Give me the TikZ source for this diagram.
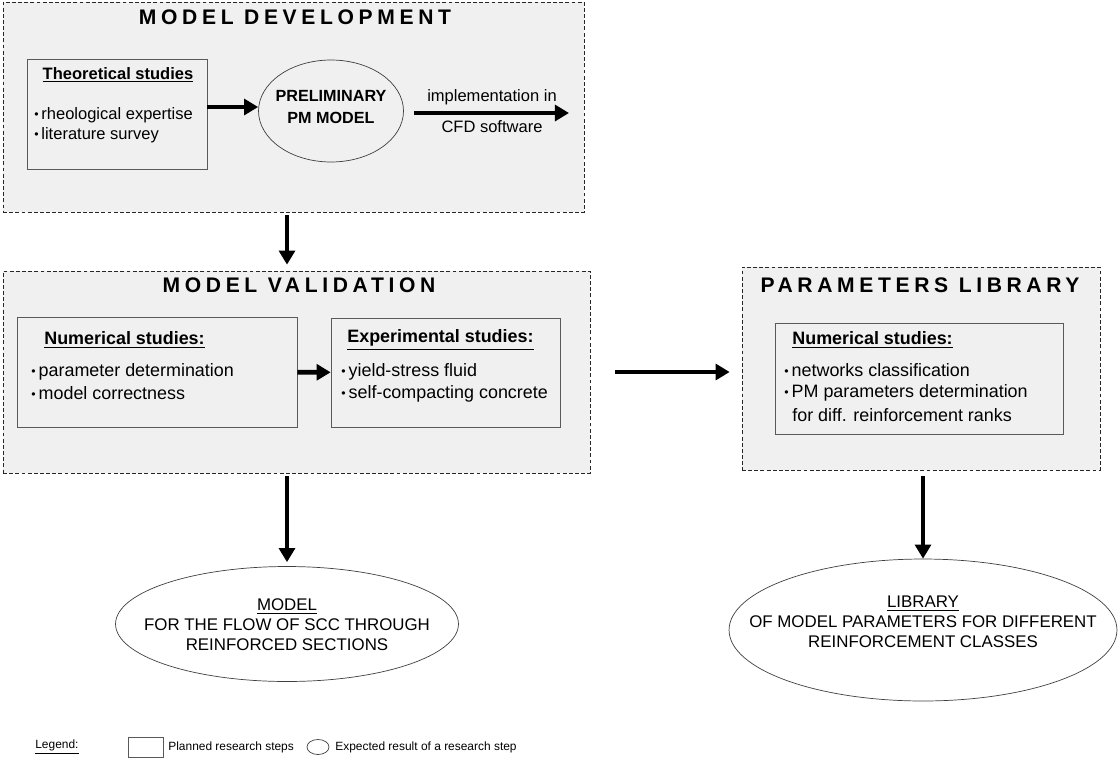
\documentclass[tikz,border=0pt]{standalone}
\usepackage{fontspec}
\usepackage{graphicx}
\setmainfont{Liberation Sans}
\usetikzlibrary{arrows.meta,shapes.geometric}
\newcommand{\bul}{\raisebox{.12ex}{\fontsize{7}{7}\selectfont•}\,}

\begin{document}
\begin{tikzpicture}[x=0.02cm,y=-0.02cm,
  panel/.style={draw=black!85,dash pattern=on 2.2pt off 1.3pt,fill=black!6,inner sep=0pt},
  stepbox/.style={draw=black!65,fill=black!6,inner sep=0pt},
  result/.style={ellipse,draw=black!75,inner sep=0pt},
  bigarrow/.style={line width=2.8pt,-{Triangle[length=8pt,width=9pt]}},
  ptitle/.style={font=\fontsize{12}{14}\selectfont\bfseries\addfontfeature{LetterSpace=22}},
  toptxt/.style={font=\fontsize{9.4}{11}\selectfont,inner sep=0pt},
  txt/.style={font=\fontsize{10.2}{12}\selectfont,inner sep=0pt},
  legtxt/.style={font=\fontsize{6.8}{8}\selectfont,inner sep=0pt,anchor=west}]
  \fill [white] (0,0) rectangle (1118,761);
  \useasboundingbox (0,0) rectangle (1118,761);

  \node [panel,minimum width=11.62cm,minimum height=4.2cm] (dev) at (293.5,107) {};
  \node [panel,minimum width=11.74cm,minimum height=4.04cm] (val) at (296.5,372) {};
  \node [panel,minimum width=7.16cm,minimum height=4.06cm] (lib) at (921,368.5) {};
  \node [ptitle] (devtitle) at (295,17) {MODEL DEVELOPMENT};
  \node [ptitle] (valtitle) at (299,285) {MODEL VALIDATION};
  \node [ptitle] (libtitle) at (920,285) {PARAMETERS LIBRARY};

  \node [stepbox,minimum width=3.6cm,minimum height=2.2cm] (theo) at (117,114) {};
  \node [toptxt,font=\fontsize{9.4}{11}\selectfont\bfseries] (theotitle) at (118,75) {\underline{Theoretical studies}};
  \node [toptxt,anchor=west] (theoa) at (34,115) {\bul rheological expertise};
  \node [toptxt,anchor=west] (theob) at (34,135) {\bul literature survey};
  \node [result,fill=black!6,minimum width=2.9cm,minimum height=2.04cm] (pre) at (331,111) {};
  \node [txt,font=\fontsize{9.2}{12.5}\selectfont\bfseries,align=center] (pretext) at (331,107) {PRELIMINARY\\PM MODEL};
  \coordinate (impl) at (414,113);
  \coordinate (cfd) at (569,113);
  \node [toptxt] (impltext) at (492,97) {implementation in};
  \node [toptxt] (cfdtext) at (492,127) {CFD software};

  \node [stepbox,minimum width=5.6cm,minimum height=2.2cm] (num) at (157,372) {};
  \node [txt,anchor=west,font=\fontsize{10.2}{12}\selectfont\bfseries] (numtitle) at (44,340) {\underline{Numerical studies:}};
  \node [txt,anchor=west] (numa) at (31,372) {\bul parameter determination};
  \node [txt,anchor=west] (numb) at (31,393) {\bul model correctness};
  \node [stepbox,minimum width=4.58cm,minimum height=2.18cm] (exp) at (445.5,372.5) {};
  \node [txt,anchor=west,font=\fontsize{10.2}{12}\selectfont\bfseries] (exptitle) at (347,340) {\underline{Experimental studies:}};
  \node [txt,anchor=west] (expa) at (341,372) {\bul yield-stress fluid};
  \node [txt,anchor=west] (expb) at (341,394) {\bul self-compacting concrete};

  \node [stepbox,minimum width=5.76cm,minimum height=2.22cm] (par) at (919,378.5) {};
  \node [txt,anchor=west,font=\fontsize{10.2}{12}\selectfont\bfseries] (partitle) at (792,340) {\underline{Numerical studies:}};
  \node [txt,anchor=west] (para) at (784,370) {\bul networks classification};
  \node [txt,anchor=west] (parb) at (784,393) {\bul PM parameters determination};
  \node [txt,anchor=west] (parc) at (792,415) {for diff. reinforcement ranks};

  \node [result,fill=white,minimum width=6.86cm,minimum height=2.3cm] (res) at (287,624) {};
  \node [txt,font=\fontsize{9.6}{11.3}\selectfont,align=center] (restext) at (287,625) {\underline{MODEL}\\FOR THE FLOW OF SCC THROUGH\\REINFORCED SECTIONS};
  \node [result,fill=white,minimum width=7.76cm,minimum height=2.84cm] (libres) at (923,630) {};
  \node [txt,font=\fontsize{9.6}{11.3}\selectfont,align=center] (librestext) at (923,622) {\underline{LIBRARY}\\OF MODEL PARAMETERS FOR DIFFERENT\\REINFORCEMENT CLASSES};

  \draw [bigarrow] ([yshift=.14cm]theo.east) -- ([yshift=.14cm]theo.east -| pre.west);
  \draw [bigarrow] (impl) -- (cfd);
  \draw [bigarrow,shorten <=.06cm,shorten >=.12cm] (dev.south -| res) -- (val.north -| res);
  \draw [bigarrow] (num) -- (exp);
  \draw [bigarrow,shorten <=.5cm,shorten >=.24cm] (val.east) -- (val.east -| lib.west);
  \draw [bigarrow,shorten <=.06cm,shorten >=.08cm] (val.south -| res) -- (res.north);
  \draw [bigarrow,shorten <=.12cm] (lib.south -| libres) -- (libres.north);

  \node [legtxt] (legend) at (35,747) {\underline{Legend:}};
  \node [stepbox,fill=white,minimum width=.7cm,minimum height=.4cm] (legbox) at (145.5,747) {};
  \node [legtxt] (legboxtext) at (168,747) {Planned research steps};
  \node [result,fill=white,minimum width=.44cm,minimum height=.3cm] (legell) at (318,747) {};
  \node [legtxt] (legelltext) at (335,747) {Expected result of a research step};
\end{tikzpicture}
\end{document}
